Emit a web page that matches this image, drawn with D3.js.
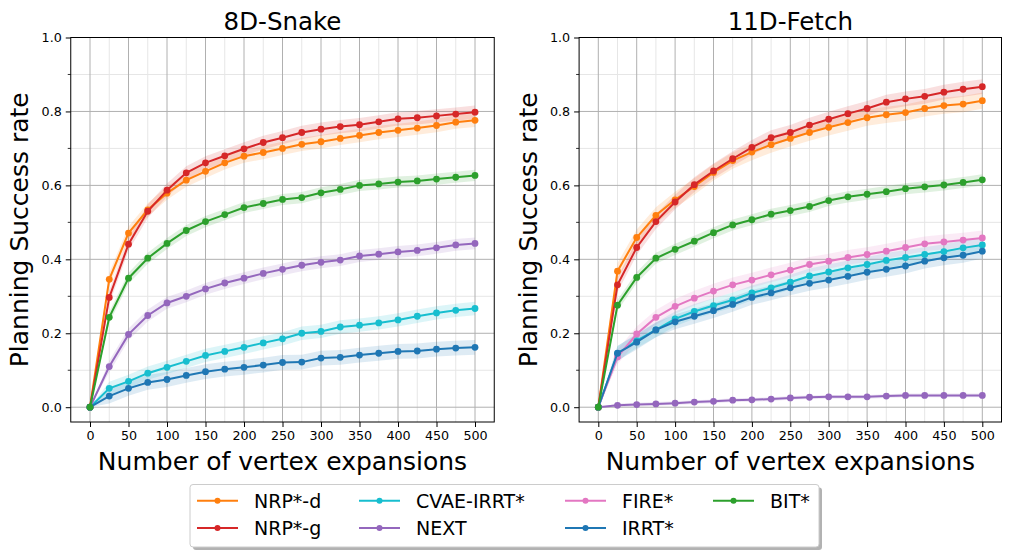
<!DOCTYPE html>
<html>
<head>
<meta charset="utf-8">
<script src="https://cdn.jsdelivr.net/npm/d3@7"></script>
<style>
  body { margin: 0; background: #fff; }
  text { font-family: "DejaVu Sans", sans-serif; fill: #000; }
</style>
</head>
<body>
<svg id="chart" width="1011" height="557"></svg>
<script>
// ---- data ----
const steps = [0, 25, 50, 75, 100, 125, 150, 175, 200, 225, 250, 275, 300, 325, 350, 375, 400, 425, 450, 475, 500];
const xTicks = [0, 50, 100, 150, 200, 250, 300, 350, 400, 450, 500];
const yTicks = [0, 0.2, 0.4, 0.6, 0.8, 1.0];

const methods = ["NRP*-d", "NRP*-g", "CVAE-IRRT*", "NEXT", "FIRE*", "IRRT*", "BIT*"];
const colors = ["#ff7f0e", "#d62728", "#17becf", "#9467bd", "#e377c2", "#1f77b4", "#2ca02c"];

// 8D-Snake
const snakeNrpD = [0, 0.346, 0.471, 0.534, 0.579, 0.614, 0.638, 0.661, 0.679, 0.689, 0.700, 0.711, 0.718, 0.727, 0.735, 0.743, 0.749, 0.755, 0.762, 0.771, 0.776];
const snakeNrpG = [0, 0.297, 0.441, 0.530, 0.587, 0.634, 0.661, 0.680, 0.699, 0.716, 0.729, 0.743, 0.752, 0.759, 0.764, 0.772, 0.780, 0.783, 0.788, 0.793, 0.798];
const snakeCvae = [0, 0.051, 0.070, 0.092, 0.108, 0.124, 0.140, 0.151, 0.162, 0.174, 0.185, 0.200, 0.205, 0.217, 0.222, 0.228, 0.236, 0.246, 0.255, 0.262, 0.267];
const snakeNext = [0, 0.110, 0.197, 0.248, 0.282, 0.300, 0.320, 0.336, 0.349, 0.362, 0.373, 0.384, 0.392, 0.398, 0.409, 0.414, 0.420, 0.424, 0.431, 0.439, 0.443];
const snakeIrrt = [0, 0.030, 0.051, 0.067, 0.075, 0.086, 0.096, 0.103, 0.108, 0.114, 0.121, 0.122, 0.133, 0.135, 0.141, 0.146, 0.151, 0.152, 0.157, 0.160, 0.162];
const snakeBit  = [0, 0.243, 0.349, 0.403, 0.443, 0.478, 0.502, 0.521, 0.540, 0.551, 0.562, 0.567, 0.580, 0.589, 0.600, 0.604, 0.609, 0.612, 0.617, 0.622, 0.627];
// half-width of the shaded band, same order as methods
const snakeBand = [0.018, 0.018, 0.018, 0.016, 0, 0.02, 0.015];

// 11D-Fetch
const fetchNrpD = [0, 0.368, 0.459, 0.519, 0.561, 0.597, 0.635, 0.667, 0.690, 0.710, 0.727, 0.743, 0.757, 0.770, 0.783, 0.791, 0.797, 0.808, 0.816, 0.820, 0.829];
const fetchNrpG = [0, 0.331, 0.432, 0.502, 0.555, 0.602, 0.639, 0.672, 0.703, 0.729, 0.743, 0.763, 0.779, 0.794, 0.808, 0.825, 0.834, 0.841, 0.852, 0.860, 0.867];
const fetchCvae = [0, 0.145, 0.180, 0.209, 0.239, 0.259, 0.275, 0.290, 0.309, 0.323, 0.338, 0.355, 0.366, 0.377, 0.386, 0.397, 0.405, 0.413, 0.421, 0.431, 0.439];
const fetchNext = [0, 0.005, 0.007, 0.009, 0.011, 0.014, 0.016, 0.019, 0.020, 0.022, 0.025, 0.027, 0.028, 0.028, 0.028, 0.030, 0.032, 0.032, 0.032, 0.032, 0.032];
const fetchFire = [0, 0.136, 0.198, 0.243, 0.273, 0.295, 0.314, 0.331, 0.344, 0.358, 0.371, 0.386, 0.395, 0.405, 0.413, 0.422, 0.432, 0.442, 0.447, 0.452, 0.458];
const fetchIrrt = [0, 0.146, 0.176, 0.209, 0.231, 0.246, 0.261, 0.278, 0.297, 0.309, 0.323, 0.335, 0.344, 0.354, 0.365, 0.373, 0.382, 0.395, 0.404, 0.411, 0.422];
const fetchBit  = [0, 0.276, 0.351, 0.403, 0.427, 0.449, 0.472, 0.493, 0.507, 0.522, 0.532, 0.543, 0.559, 0.569, 0.576, 0.583, 0.591, 0.596, 0.601, 0.608, 0.615];
const fetchBand = [0.022, 0.02, 0.02, 0.005, 0.02, 0.02, 0.015];

const snakeSeries = [snakeNrpD, snakeNrpG, snakeCvae, snakeNext, null, snakeIrrt, snakeBit];
const fetchSeries = [fetchNrpD, fetchNrpG, fetchCvae, fetchNext, fetchFire, fetchIrrt, fetchBit];

const svg = d3.select("#chart");

let drawPanel = (left, right, title, series, band) => {
  const top = 37.5, bottom = 422;
  const x = d3.scaleLinear().domain([-25, 525]).range([left, right]);
  const y = d3.scaleLinear().domain([-0.04, 1.0]).range([bottom, top]);
  const g = svg.append("g");

  // grid: minor first, then major
  const minorX = d3.range(25, 500, 50);
  const minorY = d3.range(0.1, 1.0, 0.2);
  g.selectAll(".gxm").data(minorX).enter().append("line")
      .attr("x1", d => x(d)).attr("x2", d => x(d)).attr("y1", top).attr("y2", bottom)
      .style("stroke", "#e6e6e6").style("stroke-width", 1);
  g.selectAll(".gym").data(minorY).enter().append("line")
      .attr("x1", left).attr("x2", right).attr("y1", d => y(d)).attr("y2", d => y(d))
      .style("stroke", "#e6e6e6").style("stroke-width", 1);
  g.selectAll(".gx").data(xTicks).enter().append("line")
      .attr("x1", d => x(d)).attr("x2", d => x(d)).attr("y1", top).attr("y2", bottom)
      .style("stroke", "#b0b0b0").style("stroke-width", 1);
  g.selectAll(".gy").data(yTicks).enter().append("line")
      .attr("x1", left).attr("x2", right).attr("y1", d => y(d)).attr("y2", d => y(d))
      .style("stroke", "#b0b0b0").style("stroke-width", 1);

  // bands, lines and markers
  series.forEach((vals, i) => {
    if (!vals) return;
    const pts = steps.map((s, j) => ({ s: s, v: vals[j], w: j === 0 ? 0 : band[i] }));
    g.append("path").datum(pts)
        .attr("d", d3.area().x(d => x(d.s)).y0(d => y(d.v - d.w)).y1(d => y(d.v + d.w)))
        .style("fill", colors[i]).style("opacity", 0.15);
  });
  series.forEach((vals, i) => {
    if (!vals) return;
    const pts = steps.map((s, j) => ({ s: s, v: vals[j] }));
    g.append("path").datum(pts)
        .attr("d", d3.line().x(d => x(d.s)).y(d => y(d.v)))
        .style("fill", "none").style("stroke", colors[i]).style("stroke-width", 2);
    g.selectAll(".pt" + i).data(pts).enter().append("circle")
        .attr("cx", d => x(d.s)).attr("cy", d => y(d.v)).attr("r", 3.4)
        .style("fill", colors[i]);
  });

  // spines
  g.append("rect").attr("x", left).attr("y", top).attr("width", right - left).attr("height", bottom - top)
      .style("fill", "none").style("stroke", "#000").style("stroke-width", 1);

  // axes
  const xAxis = d3.axisBottom(x).tickValues(xTicks).tickSize(5).tickPadding(4).tickFormat(d3.format("d"));
  const yAxis = d3.axisLeft(y).tickValues(yTicks).tickSize(5).tickPadding(4).tickFormat(d3.format(".1f"));
  const gx = g.append("g").attr("transform", `translate(0,${bottom})`).call(xAxis);
  const gy = g.append("g").attr("transform", `translate(${left},0)`).call(yAxis);
  [gx, gy].forEach(a => {
    a.select(".domain").remove();
    a.selectAll("text").style("font-size", "12.7px").style("font-family", "DejaVu Sans");
    a.selectAll("line").style("stroke", "#000");
  });
  g.selectAll(".ym").data(minorY).enter().append("line")
      .attr("x1", left - 3).attr("x2", left).attr("y1", d => y(d)).attr("y2", d => y(d))
      .style("stroke", "#000").style("stroke-width", 0.8);

  // labels
  g.append("text").attr("x", (left + right) / 2).attr("y", 29.5).attr("text-anchor", "middle")
      .style("font-size", "24.5px").text(title);
  g.append("text").attr("x", (left + right) / 2).attr("y", 470).attr("text-anchor", "middle")
      .style("font-size", "25px").text("Number of vertex expansions");
  g.append("text").attr("transform", `translate(${left - 42.5},${(top + bottom) / 2}) rotate(-90)`)
      .attr("text-anchor", "middle").style("font-size", "25px").text("Planning Success rate");
};

drawPanel(70.75, 494.25, "8D-Snake", snakeSeries, snakeBand);
drawPanel(579.1, 1001.5, "11D-Fetch", fetchSeries, fetchBand);

// legend
const leg = svg.append("g");
const lx = 190, ly = 484.5, lw = 629, lh = 62.5;
leg.append("rect").attr("x", lx + 3).attr("y", ly + 3).attr("width", lw).attr("height", lh).attr("rx", 3)
    .style("fill", "#000").style("opacity", 0.3);
leg.append("rect").attr("x", lx).attr("y", ly).attr("width", lw).attr("height", lh).attr("rx", 3)
    .style("fill", "#fff").style("stroke", "#cccccc").style("stroke-width", 1);
const colX = [197, 359, 565, 713];
const rowY = [500.7, 528];
methods.forEach((m, i) => {
  const cx = colX[Math.floor(i / 2)], cy = rowY[i % 2];
  leg.append("line").attr("x1", cx).attr("x2", cx + 41).attr("y1", cy).attr("y2", cy)
      .style("stroke", colors[i]).style("stroke-width", 2);
  leg.append("circle").attr("cx", cx + 20.5).attr("cy", cy).attr("r", 3).style("fill", colors[i]);
  leg.append("text").attr("x", cx + 57).attr("y", cy + 7).style("font-size", "19px").text(m);
});
</script>
</body>
</html>
